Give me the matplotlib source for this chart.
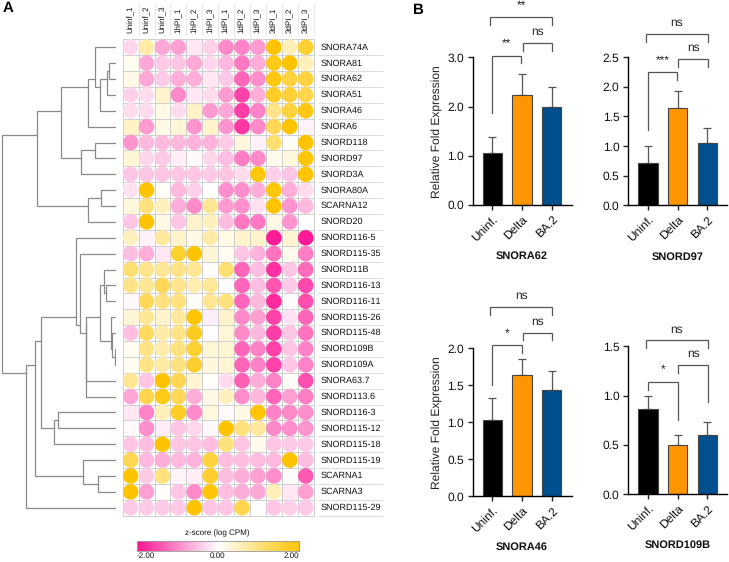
import numpy as np
import matplotlib
matplotlib.use('Agg')
import matplotlib.pyplot as plt
from matplotlib.colors import LinearSegmentedColormap
from matplotlib.patches import Circle, Rectangle

W, H = 729, 562
plt.rcParams['font.family'] = ['Liberation Sans', 'DejaVu Sans']
plt.rcParams['text.hinting'] = 'no_hinting'
plt.rcParams['text.hinting_factor'] = 1

samples = ['Uninf_1', 'Uninf_2', 'Uninf_3', '1hPI_1', '1hPI_2', '1hPI_3',
           '1dPI_1', '1dPI_2', '1dPI_3', '3dPI_1', '3dPI_2', '3dPI_3']
genes = ['SNORA74A', 'SNORA81', 'SNORA62', 'SNORA51', 'SNORA46', 'SNORA6',
         'SNORD118', 'SNORD97', 'SNORD3A', 'SNORA80A', 'SCARNA12', 'SNORD20',
         'SNORD116-5', 'SNORD115-35', 'SNORD11B', 'SNORD116-13', 'SNORD116-11',
         'SNORD115-26', 'SNORD115-48', 'SNORD109B', 'SNORD109A', 'SNORA63.7',
         'SNORD113.6', 'SNORD116-3', 'SNORD115-12', 'SNORD115-18', 'SNORD115-19',
         'SCARNA1', 'SCARNA3', 'SNORD115-29']

zscores = np.array([
    [-0.35, 0.7, -0.75, -0.8, -0.2, -0.4, -1.0, -1.05, -0.85, 2.0, 0.55, 1.6],
    [0.1, -0.75, -0.45, -0.5, -0.75, -0.35, -0.6, -1.15, -0.7, 1.8, 2.0, 0.55],
    [0.2, -0.75, -0.45, -0.7, -0.7, -0.2, -0.45, -1.3, -0.95, 1.85, 1.5, 1.5],
    [-0.4, -0.3, 0.4, -1.0, -0.2, -0.3, -0.85, -1.6, -0.7, 1.7, 1.55, 1.4],
    [-0.3, -0.3, 0.2, -0.3, 0.45, -0.85, -0.75, -1.65, -1.05, 0.9, 1.5, 1.85],
    [0.45, -0.85, 0.2, 0.3, -0.9, 0.4, -0.9, -1.7, -1.0, 1.3, 2.0, -0.1],
    [-0.9, -0.6, -0.6, -0.6, -0.65, -0.65, -0.45, 0.25, -0.12, 1.1, 0.05, 2.0],
    [0.3, -0.35, -0.45, -0.15, -0.05, -0.35, -0.55, -1.1, -1.0, 0.15, 0.25, 1.9],
    [-0.5, -0.5, -0.5, -0.5, -0.5, -0.45, -0.5, -0.3, 1.9, -0.4, -0.5, 1.95],
    [-0.25, 2.0, 0.05, -0.6, -0.4, 0.0, -0.95, -0.95, -0.7, 1.9, -0.7, -0.3],
    [0.25, 1.0, 0.5, -0.7, -1.0, 0.85, -0.85, -0.95, -0.25, 2.0, -0.9, -0.6],
    [-0.5, 2.0, 0.2, -0.5, 0.4, 0.5, -0.55, -1.15, -1.15, 0.2, -0.9, 0.0],
    [0.5, -0.1, 0.75, 0.4, 0.2, 0.7, 0.2, 0.4, 0.4, -1.95, 0.35, -1.95],
    [-0.55, -0.7, -0.2, 1.6, 2.0, 0.3, 0.1, -0.5, -0.65, -1.2, 0.15, -1.1],
    [1.1, 0.9, 0.8, 0.95, 0.85, -0.03, 1.1, -1.3, -0.55, -1.75, -0.5, -1.25],
    [0.95, 0.85, 1.3, 0.9, 0.6, 0.8, -0.02, -1.3, -0.55, -1.45, -0.45, -1.55],
    [-0.05, 1.3, 1.0, 1.0, 0.05, 0.85, 1.0, -1.3, -0.6, -1.8, -0.03, -1.5],
    [0.3, 0.8, 0.4, 0.75, 2.0, -0.15, 0.4, -1.0, -0.8, -1.6, -0.25, -1.3],
    [-0.55, 1.25, 0.7, 0.95, 1.75, -0.03, 0.3, -1.0, -0.6, -1.65, -0.5, -1.2],
    [0.1, 0.95, 0.65, 1.0, 1.6, 0.3, 0.35, -1.3, -1.05, -1.6, -0.5, -1.05],
    [0.1, 0.95, 0.7, 1.0, 1.65, 0.25, 0.35, -1.3, -1.05, -1.6, -0.5, -1.05],
    [0.85, -0.5, 2.0, 1.35, 0.35, 0.03, -0.3, -1.35, -0.7, -1.05, 0.05, -1.5],
    [-0.75, 1.4, 1.8, 1.3, -0.7, 0.2, 0.5, -0.95, -0.6, -1.3, -0.8, -1.1],
    [-0.2, -1.05, 0.55, 1.7, -1.0, 0.25, -0.05, 0.2, 1.95, -1.05, -1.0, -0.95],
    [-0.05, -0.95, -0.15, -0.5, -0.35, -0.05, 2.0, 1.0, 0.75, -1.0, -0.95, -0.9],
    [-0.5, -0.55, 2.0, -0.5, -0.5, -0.55, 1.0, -0.5, 0.15, -0.5, -0.45, -0.45],
    [1.35, -0.6, -0.7, -0.6, -0.65, 1.5, -0.55, -0.55, -0.55, -0.6, 2.0, -0.55],
    [2.0, -0.45, 1.0, -0.1, -0.15, 1.65, -0.55, -0.7, -0.8, -0.95, -0.03, -1.4],
    [2.0, -0.8, 0.03, -0.5, -1.0, 1.95, -0.55, -0.7, -0.75, 0.55, -0.2, -0.8],
    [-0.45, -0.45, -0.45, -0.45, 2.0, -0.5, -0.5, 1.4, 0.0, -0.5, -0.4, -0.45],
])

# row dendrogram: each merge makes a new node numbered from 30 up
merge_a = [1, 30, 31, 0, 33, 6, 35, 34, 9, 38, 37, 15, 14, 19, 18, 17, 42, 46, 47,
           13, 12, 23, 51, 50, 27, 26, 53, 56, 40]
merge_b = [2, 3, 4, 32, 5, 7, 8, 36, 10, 11, 39, 16, 41, 20, 43, 44, 45, 21, 22,
           48, 49, 24, 25, 52, 28, 54, 55, 29, 57]
merge_dist = [6.3, 8.7, 15.7, 20.3, 27.3, 20.7, 34.3, 54.3, 14.3, 27.3, 78.3, 9.3,
              11.3, 0.4, 4.0, 5.0, 16.0, 29.3, 29.7, 35.3, 39.7, 57.3, 61.3, 74.3,
              17.3, 32.3, 80.3, 89.3, 113.3]

groups = ['Uninf.', 'Delta', 'BA.2']
bar_colors = ['#000000', '#FF9500', '#00508F']

panel_names = ['SNORA62', 'SNORD97', 'SNORA46', 'SNORD109B']
means_62 = [1.06, 2.24, 2.00]
means_97 = [0.72, 1.65, 1.06]
means_46 = [1.03, 1.64, 1.43]
means_109b = [0.86, 0.50, 0.60]
errs_62 = [0.32, 0.42, 0.39]
errs_97 = [0.29, 0.28, 0.24]
errs_46 = [0.30, 0.21, 0.27]
errs_109b = [0.14, 0.10, 0.13]

# x0, x1, y, left leg end, right leg end, label
brackets_62 = [(-0.07, 2.02, 3.81, 3.66, 3.66, '**'),
               (1.02, 2.02, 3.29, 3.13, 3.13, 'ns'),
               (0.0, 0.97, 3.03, 1.86, 2.89, '**')]
brackets_97 = [(-0.07, 2.02, 2.90, 2.76, 2.76, 'ns'),
               (1.02, 2.02, 2.47, 2.33, 2.33, 'ns'),
               (0.0, 0.99, 2.25, 1.27, 2.12, '***')]
brackets_46 = [(-0.07, 2.02, 2.56, 2.45, 2.45, 'ns'),
               (1.02, 2.02, 2.21, 2.11, 2.11, 'ns'),
               (0.0, 0.99, 2.04, 1.51, 1.94, '*')]
brackets_109b = [(-0.07, 2.02, 1.56, 1.48, 1.48, 'ns'),
                 (1.02, 2.02, 1.31, 1.23, 0.94, 'ns'),
                 (0.0, 1.0, 1.14, 1.06, 0.75, '*')]

cmap = LinearSegmentedColormap.from_list('pw', ['#FF1493', '#FFFFFF', '#FFC400'])


def px_axes(fig, left, top, right, bottom):
    return fig.add_axes([left / W, 1 - bottom / H, (right - left) / W, (bottom - top) / H])


fig = plt.figure(figsize=(W / 100, H / 100), dpi=100)

# heatmap
ax = px_axes(fig, 122.7, 39.3, 313.7, 515.7)
n_rows, n_cols = zscores.shape
ax.set_xlim(0, n_cols)
ax.set_ylim(n_rows, 0)
ax.axis('off')
for r in range(n_rows):
    for c in range(n_cols):
        z = zscores[r, c]
        col = cmap((z + 2) / 4)
        if -0.25 < z < 0.5:
            ax.add_patch(Rectangle((c, r), 1, 1, fc=col, ec='none', zorder=1))
        else:
            ax.add_patch(Circle((c + 0.5, r + 0.5), 0.49, fc=col, ec='none', zorder=3))
for i in range(n_cols + 1):
    ax.plot([i, i], [0, n_rows], color='#cfcfcf', lw=0.7, zorder=2, clip_on=False)
for i in range(n_rows + 1):
    ax.plot([0, n_cols], [i, i], color='#cfcfcf', lw=0.7, zorder=2, clip_on=False)

# column labels
for i, s in enumerate(samples):
    ax.text(i + 0.5, -0.4, s, rotation=90, ha='center', va='bottom', fontsize=6.1, color='#111111')
for i in range(1, n_cols + 1):
    ax.plot([i, i], [-0.25, -2.2], color='#e4e4e4', lw=0.6, clip_on=False)

# row labels
for i, g in enumerate(genes):
    ax.text(n_cols + 0.42, i + 0.5, g, ha='left', va='center', fontsize=6.3, color='#111111')
    ax.plot([n_cols + 0.33, n_cols + 4.27], [i + 1, i + 1], color='#dddddd', lw=0.8, clip_on=False)

# dendrogram, node y is the mean of its leaves
dax = px_axes(fig, 0, 39.3, 115.7, 515.7)
dax.set_xlim(115.7, 0)
dax.set_ylim(n_rows, 0)
dax.axis('off')
node_x = {i: 0.0 for i in range(n_rows)}
node_leaves = {i: [i] for i in range(n_rows)}
for k, (a, b, d) in enumerate(zip(merge_a, merge_b, merge_dist)):
    ya = np.mean(node_leaves[a]) + 0.5
    yb = np.mean(node_leaves[b]) + 0.5
    dax.plot([node_x[a], d, d, node_x[b]], [ya, ya, yb, yb], color='#8a8a8a', lw=0.9,
             solid_joinstyle='miter')
    node_x[n_rows + k] = d
    node_leaves[n_rows + k] = node_leaves[a] + node_leaves[b]

# colour bar
cax = px_axes(fig, 136.7, 541, 299, 550.7)
cax.imshow(np.linspace(-2, 2, 256).reshape(1, -1), cmap=cmap, vmin=-2, vmax=2, aspect='auto')
cax.set_xticks([])
cax.set_yticks([])
for sp in cax.spines.values():
    sp.set_color('#999999')
    sp.set_linewidth(0.6)
fig.text(217.7 / W, 1 - 533.7 / H, 'z-score (log CPM)', ha='center', va='center', fontsize=6, color='#111111')
fig.text(136.7 / W, 1 - 556 / H, '-2.00', ha='left', va='center', fontsize=6, color='#111111')
fig.text(217.7 / W, 1 - 556 / H, '0.00', ha='center', va='center', fontsize=6, color='#111111')
fig.text(299 / W, 1 - 556 / H, '2.00', ha='right', va='center', fontsize=6, color='#111111')


def bar_panel(rect, means, errs, brackets, ymax, yticks, title, title_xy, ylabel):
    ax = px_axes(fig, *rect)
    x = np.arange(len(groups))
    ax.bar(x, means, width=0.65, color=bar_colors, edgecolor='#444444', linewidth=0.8, zorder=2)
    ax.errorbar(x, means, yerr=[np.zeros(3), errs], fmt='none', ecolor='#555555',
                elinewidth=0.9, capsize=2.9, capthick=0.9, zorder=1)
    ax.set_xlim(-0.66, 2.67)
    ax.set_ylim(0, ymax)
    ax.set_yticks(yticks)
    ax.set_yticklabels([f'{t:.1f}' for t in yticks], fontsize=8.5, color='#111111')
    ax.set_xticks(x)
    ax.set_xticklabels(groups, fontsize=8.8, color='#111111', rotation=45, ha='right', rotation_mode='anchor')
    ax.tick_params(length=3.8, width=1.0, color='#222222', pad=2.5)
    ax.spines['top'].set_visible(False)
    ax.spines['right'].set_visible(False)
    ax.spines['left'].set_linewidth(1.0)
    ax.spines['bottom'].set_linewidth(1.0)
    ax.patch.set_alpha(0)
    if ylabel:
        ax.set_ylabel(ylabel, fontsize=8.6, color='#222222')
        ax.yaxis.set_label_coords(-0.30, 0.5)
    for x0, x1, y, leg0, leg1, label in brackets:
        ax.plot([x0, x0, x1, x1], [leg0, y, y, leg1], color='#555555', lw=0.9, clip_on=False,
                solid_joinstyle='miter')
        offset = 5.7 if label == 'ns' else 6.0
        ax.annotate(label, ((x0 + x1) / 2, y), xytext=(0, offset), textcoords='offset points',
                    ha='center', va='baseline', fontsize=8.3, color='#222222', annotation_clip=False)
    fig.text(title_xy[0] / W, 1 - title_xy[1] / H, title, ha='center', va='center',
             fontsize=7.9, fontweight='bold', color='#111111')


bar_panel((472.7, 57.3, 571.7, 205), means_62, errs_62, brackets_62, 3.0, [0, 1, 2, 3],
          panel_names[0], (522, 255.7), 'Relative Fold Expression')
bar_panel((628.3, 57.3, 727.3, 205.3), means_97, errs_97, brackets_97, 2.5, [0, 0.5, 1, 1.5, 2, 2.5],
          panel_names[1], (677.7, 256.7), None)
bar_panel((472.7, 348.3, 571.7, 496.3), means_46, errs_46, brackets_46, 2.0, [0, 0.5, 1, 1.5, 2],
          panel_names[2], (522, 546.7), 'Relative Fold Expression')
bar_panel((628.3, 346.3, 727.3, 494.3), means_109b, errs_109b, brackets_109b, 1.5, [0, 0.5, 1, 1.5],
          panel_names[3], (677.7, 545), None)

fig.text(3 / W, 1 - 8 / H, 'A', ha='left', va='center', fontsize=10.5, fontweight='bold')
fig.text(413.5 / W, 1 - 10.5 / H, 'B', ha='left', va='center', fontsize=10.5, fontweight='bold')

fig.savefig('out.png', dpi=100)
